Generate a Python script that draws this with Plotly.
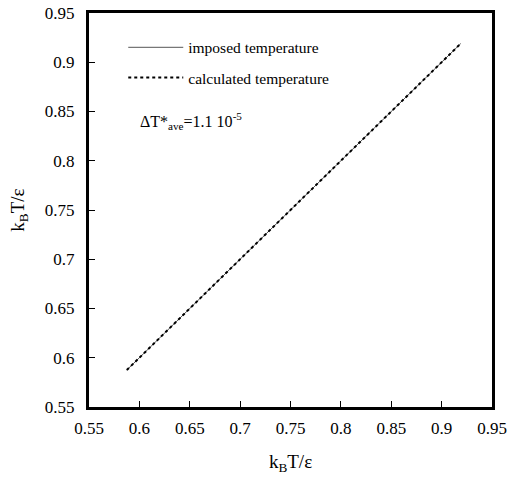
import plotly.graph_objects as go

# data (reduced temperatures kB T / epsilon)
imposed_x = [0.5875, 0.6, 0.65, 0.7, 0.75, 0.8, 0.85, 0.9, 0.919]
imposed_y = [0.5875, 0.6, 0.65, 0.7, 0.75, 0.8, 0.85, 0.9, 0.919]
calc_x = [0.5875, 0.6, 0.65, 0.7, 0.75, 0.8, 0.85, 0.9, 0.919]
calc_y = [0.5875, 0.6, 0.65, 0.7, 0.75, 0.8, 0.85, 0.9, 0.919]
tick_vals = [0.55, 0.6, 0.65, 0.7, 0.75, 0.8, 0.85, 0.9, 0.95]
tick_text = ["0.55", "0.6", "0.65", "0.7", "0.75", "0.8", "0.85", "0.9", "0.95"]

FONT = "Liberation Serif, Times New Roman, serif"

fig = go.Figure()
fig.add_trace(go.Scatter(x=imposed_x, y=imposed_y, mode="lines",
                         line=dict(color="#555555", width=1),
                         name="imposed temperature", legendgroup="a"))
fig.add_trace(go.Scatter(x=calc_x, y=calc_y, mode="lines",
                         line=dict(color="black", width=2, dash="3px,3px"),
                         name="calculated temperature", legendgroup="b"))

axis_common = dict(range=[0.55, 0.95], tickvals=tick_vals, ticktext=tick_text,
                   ticks="inside", ticklen=6, tickwidth=1, tickcolor="black",
                   showline=True, linewidth=3, linecolor="black", mirror=True,
                   showgrid=False, zeroline=False, automargin=False,
                   tickfont=dict(family=FONT, size=17, color="black"))

fig.update_xaxes(**axis_common, ticklabelstandoff=4,
                 title=dict(text="k<sub>B</sub>T/ε", font=dict(family=FONT, size=19, color="black"),
                            standoff=18))
fig.update_yaxes(**axis_common, ticklabelstandoff=8,
                 title=dict(text="k<sub>B</sub>T/ε", font=dict(family=FONT, size=19, color="black"),
                            standoff=16))

fig.add_annotation(x=0.122, y=0.726, xref="paper", yref="paper", xanchor="left", yanchor="middle",
                   text="ΔT*<sub>ave</sub>=1.1 10<sup>-5</sup>", showarrow=False,
                   font=dict(family=FONT, size=16, color="black"))

fig.update_layout(width=509, height=487,
                  margin=dict(l=89, r=17, t=13, b=80),
                  paper_bgcolor="white", plot_bgcolor="white",
                  showlegend=True,
                  legend=dict(x=0.085, y=0.955, xanchor="left", yanchor="top",
                              bgcolor="rgba(0,0,0,0)", itemwidth=55,
                              traceorder="grouped", tracegroupgap=7,
                              font=dict(family=FONT, size=15.5, color="black")))

fig.write_html("out.html", config={"displayModeBar": False},
               post_script="document.body.style.margin='0';document.body.style.overflow='hidden';")
